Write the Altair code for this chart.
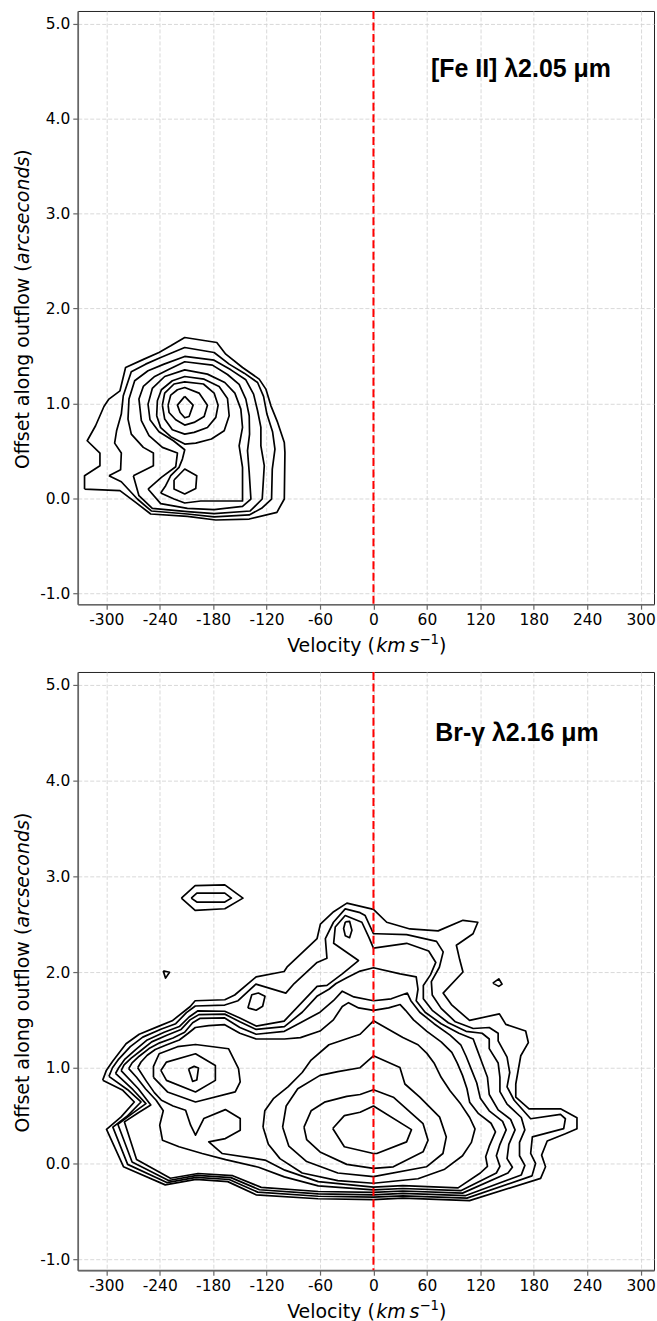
import altair as alt
import pandas as pd

# ---------------- axes ----------------
VEL_TICKS = [-300, -240, -180, -120, -60, 0, 60, 120, 180, 240, 300]
OFF_TICKS = [-1, 0, 1, 2, 3, 4, 5]
VEL_RANGE = [-332, 315]
OFF_RANGE = [-1.115, 5.135]
SYSTEMIC_VEL = [0]

FE_LABEL = "[Fe II] λ2.05 μm"
BR_LABEL = "Br-γ λ2.16 μm"

# ---------------- [Fe II] contours: (velocity km/s, offset arcsec) ----------------
FE_1 = [(-324.4, 0.098), (-324.4, 0.239), (-307.1, 0.344), (-307.1, 0.477), (-321.4, 0.607), (-312.0, 0.765),
        (-302.6, 0.968), (-297.0, 1.046), (-284.6, 1.133), (-278.3, 1.379), (-257.6, 1.467), (-240.8, 1.537),
        (-227.6, 1.607), (-211.9, 1.695), (-175.9, 1.642), (-165.8, 1.519), (-147.0, 1.379), (-128.3, 1.256),
        (-120.8, 1.151), (-115.1, 0.975), (-107.6, 0.800), (-100.1, 0.589), (-99.4, 0.484), (-100.1, -0.007),
        (-108.4, -0.147), (-139.5, -0.218), (-177.0, -0.228), (-208.9, -0.189), (-250.1, -0.165), (-267.0, -0.042),
        (-284.6, 0.081), (-324.4, 0.098)]
FE_2 = [(-297.0, 0.239), (-283.9, 0.302), (-283.1, 0.477), (-290.6, 0.582), (-288.4, 0.712), (-283.1, 0.888),
        (-280.9, 1.081), (-271.9, 1.333), (-255.8, 1.414), (-238.9, 1.484), (-211.9, 1.589), (-178.9, 1.537),
        (-162.0, 1.414), (-145.1, 1.319), (-130.1, 1.221), (-123.4, 1.074), (-119.6, 0.888), (-113.3, 0.702),
        (-110.6, 0.519), (-113.6, 0.309), (-114.4, -0.007), (-125.6, -0.105), (-139.5, -0.175), (-178.9, -0.196),
        (-208.9, -0.165), (-249.4, -0.133), (-265.1, -0.007), (-283.1, 0.175), (-297.0, 0.239)]
FE_3 = [(-269.6, 0.239), (-247.1, 0.344), (-247.1, 0.477), (-258.4, 0.537), (-271.9, 0.677), (-275.6, 0.835),
        (-274.5, 1.046), (-268.1, 1.239), (-253.1, 1.344), (-235.1, 1.414), (-211.9, 1.495), (-178.9, 1.456),
        (-160.1, 1.354), (-143.3, 1.249), (-134.6, 1.098), (-130.1, 0.923), (-126.4, 0.747), (-126.4, 0.554),
        (-122.6, 0.344), (-124.9, -0.007), (-138.4, -0.133), (-178.9, -0.161), (-208.9, -0.140), (-248.3, -0.105),
        (-263.3, 0.028), (-269.6, 0.239)]
FE_4 = [(-253.1, 0.098), (-238.1, 0.221), (-222.0, 0.333), (-220.1, 0.477), (-237.0, 0.537), (-252.0, 0.660),
        (-260.6, 0.818), (-263.3, 1.046), (-258.4, 1.179), (-245.6, 1.284), (-230.6, 1.354), (-211.9, 1.439),
        (-180.8, 1.404), (-163.9, 1.305), (-150.8, 1.201), (-143.3, 1.046), (-139.5, 0.870), (-139.1, 0.677),
        (-141.4, 0.502), (-139.5, 0.274), (-137.6, -0.007), (-147.0, -0.084), (-178.9, -0.119), (-208.9, -0.105),
        (-238.9, -0.056), (-253.1, 0.098)]
FE_5 = [(-238.9, 0.056), (-223.9, -0.007), (-211.9, -0.049), (-193.9, -0.028), (-147.0, -0.028), (-147.0, 0.326),
        (-150.8, 0.554), (-147.0, 0.747), (-148.9, 0.940), (-155.6, 1.109), (-166.9, 1.221), (-186.4, 1.309),
        (-211.9, 1.354), (-234.4, 1.284), (-248.3, 1.158), (-253.1, 0.993), (-250.9, 0.828), (-240.8, 0.702),
        (-224.6, 0.607), (-211.9, 0.512), (-214.5, 0.414), (-218.3, 0.326), (-227.6, 0.239), (-233.3, 0.133),
        (-238.9, 0.056)]
FE_6 = [(-243.4, 0.870), (-242.6, 1.028), (-238.1, 1.144), (-225.8, 1.239), (-211.9, 1.284), (-190.1, 1.256),
        (-173.3, 1.179), (-163.9, 1.053), (-162.0, 0.870), (-167.6, 0.712), (-181.9, 0.625), (-199.5, 0.582),
        (-211.9, 0.572), (-227.6, 0.650), (-238.9, 0.745), (-243.4, 0.870)]
FE_6_LOW = [(-223.9, 0.193), (-211.9, 0.309), (-198.4, 0.239), (-199.5, 0.105), (-211.9, 0.046), (-223.9, 0.098),
            (-223.9, 0.193)]
FE_7 = [(-237.0, 0.982), (-234.4, 1.109), (-223.9, 1.205), (-211.9, 1.228), (-190.9, 1.205), (-178.9, 1.109),
        (-174.4, 0.982), (-177.0, 0.853), (-186.4, 0.747), (-201.4, 0.695), (-211.9, 0.677), (-225.8, 0.723),
        (-234.4, 0.835), (-237.0, 0.982)]
FE_8 = [(-230.6, 0.982), (-227.6, 1.088), (-220.1, 1.144), (-211.9, 1.168), (-195.8, 1.109), (-186.4, 0.982),
        (-190.1, 0.863), (-201.4, 0.800), (-211.9, 0.772), (-222.0, 0.828), (-229.5, 0.905), (-230.6, 0.982)]
FE_9 = [(-211.9, 1.074), (-202.5, 0.982), (-207.0, 0.863), (-211.9, 0.849), (-217.1, 0.905), (-220.1, 0.982),
        (-211.9, 1.074)]

# ---------------- Br-gamma contours: (velocity km/s, offset arcsec) ----------------
BR_1 = [(-304, 0.87), (-300, 0.97), (-292.6, 1.07), (-277.8, 1.25), (-263, 1.35), (-240.8, 1.435), (-226, 1.49),
        (-205.7, 1.64), (-200.2, 1.70), (-166.9, 1.71), (-155.8, 1.76), (-131.7, 1.95), (-100.3, 2.005),
        (-96.6, 2.057), (-63.3, 2.35), (-59.6, 2.50), (-44.7, 2.63), (-29.8, 2.72), (0, 2.655), (14.9, 2.52),
        (40.9, 2.45), (72.6, 2.43), (100.5, 2.54), (117.2, 2.52), (111.8, 2.40), (93.1, 2.28), (96.8, 2.13),
        (100.5, 2.0), (78.2, 1.78), (87.5, 1.66), (107.9, 1.494), (141.4, 1.563), (148.6, 1.453), (170.9, 1.384),
        (173.9, 1.263), (165.4, 1.125), (159.8, 0.83), (159.8, 0.692), (174.7, 0.571), (210, 0.571), (228.5, 0.478),
        (228.5, 0.363), (215.5, 0.311), (195.1, 0.235), (188.8, 0.087), (193.2, -0.035), (187.7, -0.156),
        (107.8, -0.388), (33, -0.362), (0, -0.379), (-62.3, -0.369), (-131.8, -0.328), (-163.6, -0.19),
        (-199.3, -0.166), (-233.8, -0.224), (-280.7, -0.034), (-299.7, 0.355), (-283.3, 0.486), (-268.5, 0.642),
        (-281.4, 0.764), (-304, 0.87)]
BR_2 = [(-297, 0.91), (-293, 1.0), (-286, 1.09), (-273, 1.22), (-259, 1.32), (-238, 1.405), (-222, 1.46),
        (-210, 1.575), (-200, 1.645), (-167, 1.655), (-152, 1.70), (-132, 1.874), (-98.4, 1.78), (-89, 1.88),
        (-63.3, 2.10), (-52.2, 2.143), (-54, 2.35), (-44.9, 2.52), (-31.7, 2.66), (-15, 2.62), (-9.3, 2.59),
        (0, 2.40), (3.7, 2.40), (37.3, 2.39), (70.8, 2.32), (78.3, 2.21), (74, 2.05), (65, 1.90), (66, 1.76),
        (76, 1.62), (92, 1.48), (112, 1.41), (130, 1.42), (140, 1.36), (140, 1.28), (150, 1.11), (153, 0.95),
        (150, 0.80), (158, 0.66), (176.5, 0.467), (210, 0.512), (215.5, 0.467), (213.6, 0.363), (178.4, 0.277),
        (176.5, 0.104), (182, 0.0), (178, -0.13), (105, -0.362), (33, -0.338), (0, -0.352), (-62, -0.343),
        (-130, -0.30), (-162, -0.168), (-199, -0.145), (-232, -0.20), (-276, -0.01), (-292.6, 0.38), (-277, 0.49),
        (-261, 0.642), (-276, 0.77), (-297, 0.91)]
BR_3 = [(-289.6, 0.94), (-286, 1.0), (-279, 1.09), (-267, 1.19), (-254, 1.29), (-235, 1.37), (-218, 1.43),
        (-207, 1.53), (-197, 1.595), (-167, 1.59), (-150, 1.52), (-131.7, 1.435), (-100.3, 1.487), (-63.3, 1.85),
        (-52.2, 1.86), (-35, 1.98), (-16.8, 2.12), (-44.7, 2.30), (-42.9, 2.47), (-31.7, 2.59), (-13, 2.52),
        (-5, 2.36), (0, 2.25), (37.3, 2.30), (62, 2.22), (70, 2.10), (64, 1.97), (56, 1.86), (56, 1.72), (66, 1.60),
        (84, 1.47), (104, 1.38), (122, 1.36), (130, 1.30), (130, 1.20), (140, 1.05), (142, 0.90), (142, 0.75),
        (150, 0.62), (166, 0.48), (170, 0.35), (164, 0.22), (164, 0.08), (170, -0.02), (166, -0.12), (103, -0.337),
        (33, -0.313), (0, -0.328), (-62, -0.318), (-128, -0.275), (-160, -0.148), (-198, -0.125), (-230, -0.178),
        (-271, 0.015), (-287, 0.41), (-271, 0.52), (-255.5, 0.625), (-270, 0.77), (-289.6, 0.94)]
BR_4 = [(-283.3, 0.97), (-280, 1.03), (-272, 1.10), (-261, 1.18), (-249, 1.27), (-232, 1.34), (-216, 1.40),
        (-206, 1.50), (-196, 1.555), (-167, 1.56), (-150, 1.48), (-131.7, 1.40), (-100, 1.43), (-80, 1.58),
        (-63, 1.75), (-50, 1.82), (-42, 1.88), (-30, 1.94), (-15, 2.01), (0, 2.045), (30, 1.98), (48, 1.95),
        (50, 1.82), (48, 1.70), (58, 1.58), (76, 1.46), (96, 1.36), (112, 1.30), (116, 1.20), (122, 1.05),
        (128, 0.90), (130, 0.72), (140, 0.56), (154, 0.46), (159, 0.35), (152, 0.20), (150, 0.05), (156, -0.04),
        (151, -0.10), (100, -0.31), (33, -0.288), (0, -0.303), (-62, -0.293), (-126, -0.25), (-158, -0.128),
        (-197, -0.105), (-228, -0.155), (-266, 0.04), (-279.6, 0.434), (-264, 0.53), (-250, 0.61), (-264, 0.78),
        (-283.3, 0.97)]
BR_5 = [(-274.8, 0.99), (-271, 1.05), (-263, 1.12), (-252, 1.20), (-240, 1.26), (-225, 1.31), (-212, 1.37),
        (-203, 1.47), (-195, 1.515), (-167, 1.52), (-150, 1.42), (-131.7, 1.35), (-100, 1.38), (-82, 1.47),
        (-60, 1.58), (-45, 1.70), (-35, 1.80), (-22, 1.74), (0, 1.70), (20, 1.72), (38, 1.78), (42, 1.70),
        (52, 1.58), (68, 1.46), (86, 1.34), (98, 1.24), (104, 1.12), (110, 0.98), (116, 0.84), (120, 0.68),
        (130, 0.55), (145, 0.44), (149, 0.35), (142, 0.20), (138, 0.08), (142, -0.03), (138, -0.10), (98, -0.285),
        (33, -0.262), (0, -0.276), (-62, -0.235), (-100, -0.14), (-129, -0.04), (-166, 0.04), (-192.3, 0.104),
        (-218.3, 0.174), (-236.9, 0.243), (-240, 0.40), (-236, 0.55), (-244, 0.66), (-256, 0.78), (-266, 0.90),
        (-274.8, 0.99)]
BR_6 = [(-264.7, 1.0), (-261, 1.06), (-254, 1.13), (-245, 1.19), (-232, 1.24), (-218, 1.29), (-208, 1.36),
        (-200, 1.42), (-185, 1.44), (-167, 1.45), (-150, 1.36), (-131.7, 1.30), (-100, 1.30), (-82, 1.314),
        (-60, 1.383), (-45, 1.50), (-35, 1.64), (-28, 1.68), (-16.7, 1.625), (0, 1.60), (17, 1.625), (30, 1.66),
        (36, 1.60), (45, 1.50), (60, 1.38), (76, 1.27), (88, 1.16), (94, 1.05), (100, 0.92), (105, 0.78),
        (108, 0.64), (118, 0.52), (132, 0.42), (137, 0.33), (130, 0.18), (126, 0.07), (128, -0.03), (120, -0.10),
        (95, -0.255), (33, -0.232), (0, -0.248), (-62, -0.19), (-99.5, -0.07), (-121.8, 0.035), (-170, 0.104),
        (-184.9, 0.226), (-166.3, 0.26), (-149.6, 0.347), (-149.6, 0.469), (-166.3, 0.5625), (-190.5, 0.469),
        (-199.8, 0.295), (-205.3, 0.399), (-210.9, 0.556), (-225, 0.60), (-238, 0.66), (-246, 0.74), (-255, 0.86),
        (-264.7, 1.0)]
BR_7_WEST = [(-247, 0.90), (-247, 1.014), (-240.6, 1.146), (-220, 1.22), (-199.8, 1.243), (-162.6, 1.198),
             (-151.5, 0.99), (-149.6, 0.851), (-155.2, 0.747), (-199.8, 0.642), (-231.3, 0.747), (-247, 0.90)]
BR_7_CORE = [(-124, 0.38), (-122, 0.55), (-112, 0.68), (-96, 0.80), (-80, 0.95), (-70, 1.08), (-50, 1.24),
             (-15, 1.35), (0, 1.49), (33, 1.315), (50, 1.24), (60, 1.15), (68, 1.05), (76, 0.90), (86, 0.76),
             (98, 0.62), (108, 0.48), (114, 0.36), (110, 0.22), (100, 0.08), (80, -0.06), (50, -0.16), (0, -0.207),
             (-40, -0.18), (-80, -0.10), (-105, 0.05), (-118, 0.20), (-124, 0.38)]
BR_8_WEST = [(-238.7, 0.972), (-232.4, 1.059), (-199.8, 1.146), (-177.5, 1.024), (-177.5, 0.868), (-199.8, 0.747),
             (-232.4, 0.868), (-238.7, 0.972)]
BR_8_CORE = [(-102, 0.38), (-98, 0.60), (-85, 0.78), (-60, 0.92), (-40, 0.96), (-15, 1.0), (0, 1.125),
             (29.7, 1.003), (35.3, 0.83), (52, 0.692), (74.3, 0.484), (81.8, 0.277), (78, 0.104), (59.5, -0.035),
             (0, -0.138), (-40, -0.10), (-75, 0.02), (-95, 0.18), (-102, 0.38)]
BR_9_WEST = [(-207.6, 0.986), (-201.3, 1.014), (-196.5, 0.997), (-198.3, 0.872), (-203.1, 0.858), (-205.7, 0.934),
             (-207.6, 0.986)]
BR_9_CORE = [(-78, 0.38), (-70, 0.55), (-55, 0.64), (-30, 0.70), (-15, 0.72), (0, 0.77), (22.3, 0.692),
             (55.7, 0.415), (61.3, 0.242), (55.7, 0.121), (22.3, -0.035), (0, -0.052), (-30, -0.01), (-60, 0.12),
             (-75, 0.25), (-78, 0.38)]
BR_10_CORE = [(-45.7, 0.365), (-32.7, 0.50), (-15, 0.535), (0, 0.60), (42.7, 0.353), (37.2, 0.225), (3.7, 0.104),
              (0, 0.104), (-32.7, 0.174), (-45.7, 0.365)]
BR_KNOT_HI_OUT = [(-215.7, 2.772), (-200.2, 2.903), (-166.9, 2.910), (-146.5, 2.772), (-166.9, 2.661),
                  (-200.2, 2.644), (-215.7, 2.772)]
BR_KNOT_HI_IN = [(-204.6, 2.772), (-198.3, 2.824), (-166.9, 2.824), (-159.5, 2.772), (-166.9, 2.731),
                 (-198.3, 2.731), (-204.6, 2.772)]
BR_SPECK_W = [(-236, 2.012), (-229, 1.998), (-233.4, 1.936), (-236, 2.012)]
BR_KNOT_MID = [(-141, 1.625), (-136.6, 1.763), (-129.2, 1.781), (-121.8, 1.746), (-124.4, 1.642), (-131.7, 1.601),
               (-141, 1.625)]
BR_KNOT_TOP = [(-31.6, 2.523), (-26.8, 2.53), (-24.2, 2.437), (-26.8, 2.358), (-31.6, 2.378), (-33.5, 2.454),
               (-31.6, 2.523)]
BR_SPECK_E = [(134, 1.884), (140.7, 1.929), (144.4, 1.874), (140.7, 1.85), (134, 1.884)]

FE_CONTOURS = [FE_1, FE_2, FE_3, FE_4, FE_5, FE_6, FE_6_LOW, FE_7, FE_8, FE_9]
BR_CONTOURS = [BR_1, BR_2, BR_3, BR_4, BR_5, BR_6, BR_7_WEST, BR_7_CORE, BR_8_WEST, BR_8_CORE, BR_9_WEST,
               BR_9_CORE, BR_10_CORE, BR_KNOT_HI_OUT, BR_KNOT_HI_IN, BR_SPECK_W, BR_KNOT_MID, BR_KNOT_TOP,
               BR_SPECK_E]

PANEL_W = 578
LABEL_FONT = "DejaVu Sans"
TITLE_SIZE = 19
MINUS_FIX = "replace(datum.label, '\u2212', '-')"


def contour_table(contours):
    rows = []
    for cid, pts in enumerate(contours):
        for k, (v, o) in enumerate(pts):
            rows.append({"contour": cid, "k": k, "velocity": v, "offset": o})
    return pd.DataFrame(rows)


def text_row(s):
    return pd.DataFrame({"t": [s]})


def label_mark(s, x, y, size=TITLE_SIZE, style="normal", angle=0, font=LABEL_FONT, weight="normal",
               align="left"):
    return alt.Chart(text_row(s)).mark_text(
        font=font, fontSize=size, fontStyle=style, fontWeight=weight, angle=angle,
        align=align, baseline="alphabetic", color="black"
    ).encode(x=alt.value(x), y=alt.value(y), text="t:N")


def pv_panel(contours, tag, h, tag_x, tag_y):
    x_enc = alt.X("velocity:Q",
                  scale=alt.Scale(domain=VEL_RANGE, nice=False, zero=False),
                  axis=alt.Axis(values=VEL_TICKS, format="d", labelExpr=MINUS_FIX, title=None))
    y_enc = alt.Y("offset:Q",
                  scale=alt.Scale(domain=OFF_RANGE, nice=False, zero=False),
                  axis=alt.Axis(values=OFF_TICKS, format=".1f", labelExpr=MINUS_FIX, title=None))

    lines = alt.Chart(contour_table(contours)).mark_line(
        color="black", strokeWidth=1.7, clip=True, strokeJoin="round"
    ).encode(x=x_enc, y=y_enc, detail="contour:N", order="k:Q")

    systemic = alt.Chart(pd.DataFrame({"velocity": SYSTEMIC_VEL})).mark_rule(
        color="#ff0000", strokeWidth=2, strokeDash=[8, 3.5]
    ).encode(x=x_enc)

    line_tag = label_mark(tag, tag_x, tag_y, size=25, font="Liberation Sans", weight="bold", align="center")

    # x-axis title: Velocity (km s^-1)
    xb = h + 48
    x_title = [
        label_mark("Velocity (", 210, xb),
        label_mark("km\u2009s", 299.5, xb, style="italic"),
        label_mark("\u22121", 342.7, xb - 8, size=13.3),
        label_mark(")", 362.3, xb),
    ]
    # y-axis title: Offset along outflow (arcseconds), reading upward
    ys = h / 2 + 162
    y_title = [
        label_mark("Offset along outflow (", -48.7, ys, angle=270),
        label_mark("arcseconds", -48.7, ys - 205.8, angle=270, style="italic"),
        label_mark(")", -48.7, ys - 313.4, angle=270),
    ]
    # keeps the left page margin fixed
    margin = alt.Chart(text_row("")).mark_rule(color="white", strokeWidth=1).encode(
        x=alt.value(-76.5), x2=alt.value(-72), y=alt.value(h / 2)
    )

    return alt.layer(margin, lines, systemic, line_tag, *x_title, *y_title).properties(
        width=PANEL_W, height=h
    )


top = pv_panel(FE_CONTOURS, FE_LABEL, 595, 444.5, 66.3)
bottom = pv_panel(BR_CONTOURS, BR_LABEL, 600, 440.5, 69.7)

chart = alt.vconcat(top, bottom, spacing=68, bounds="flush").properties(
    padding={"left": 0, "top": 7, "right": 1, "bottom": 0},
    background="white",
).configure_axis(
    grid=True, gridColor="#d4d4d4", gridDash=[4, 2], gridWidth=0.9,
    domainColor="#666666", domainWidth=1.6,
    tickColor="#666666", tickWidth=1.2, tickSize=5,
    labelFont=LABEL_FONT, labelFontSize=15.5, labelColor="#000000", labelPadding=3,
    labelFlush=False, labelOverlap=False,
).configure_view(stroke="#222222", strokeWidth=1)

chart.save("out.html", embed_options={"renderer": "svg", "actions": False})
